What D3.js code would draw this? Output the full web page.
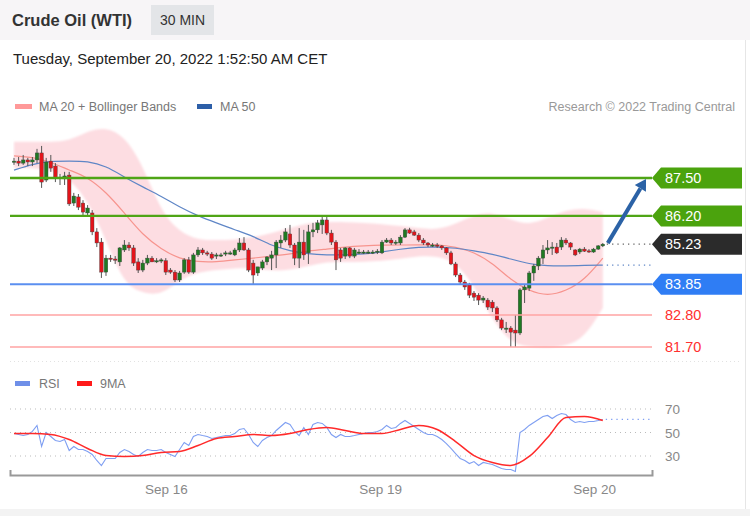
<!DOCTYPE html>
<html><head><meta charset="utf-8">
<script src="https://cdn.jsdelivr.net/npm/d3@7"></script>
<style>body{margin:0;background:#fff;} svg{display:block;font-family:"Liberation Sans",Arial,sans-serif;}</style>
</head><body><svg id="c" width="750" height="516"></svg>
<script>
// ---- DATA ----
// 30-min candles [open, high, low, close]
const ohlc = [
[88.05,88.19,87.95,88.08],[88.08,88.22,87.91,88.01],[88.01,88.29,87.95,88.12],[88.12,88.19,87.91,88.05],
[88.05,88.22,87.91,88.12],[88.12,88.50,88.01,88.36],[88.36,88.60,87.16,87.36],[87.43,88.19,87.36,88.05],
[88.08,88.29,87.71,87.84],[87.91,88.01,87.36,87.50],[87.50,87.64,87.26,87.53],[87.47,87.71,87.26,87.57],
[87.60,87.71,86.54,86.61],[86.64,86.99,86.54,86.88],[86.85,86.95,86.40,86.50],[86.64,86.74,86.23,86.33],
[86.30,86.57,86.20,86.47],[86.30,86.40,85.54,85.65],[85.65,85.78,85.13,85.27],[85.30,85.44,84.07,84.27],
[84.27,84.86,84.14,84.75],[84.75,84.86,84.62,84.72],[84.72,84.82,84.55,84.69],[84.62,85.13,84.48,85.10],
[85.03,85.37,84.96,85.20],[85.20,85.30,85.00,85.10],[85.10,85.20,84.48,84.58],[84.62,84.75,84.24,84.34],
[84.34,84.69,84.27,84.58],[84.58,84.86,84.51,84.75],[84.75,84.82,84.62,84.62],[84.66,84.75,84.58,84.66],
[84.66,84.75,84.58,84.69],[84.66,84.75,84.17,84.27],[84.34,84.41,84.21,84.27],[84.27,84.34,83.93,84.00],
[84.00,84.31,83.93,84.24],[84.27,84.75,84.21,84.69],[84.69,84.79,84.21,84.27],[84.27,84.93,84.21,84.86],
[84.86,85.13,84.79,85.03],[85.03,85.10,84.86,84.93],[84.93,85.00,84.82,84.89],[84.89,84.96,84.69,84.75],
[84.82,84.93,84.72,84.86],[84.86,84.93,84.79,84.86],[84.89,85.00,84.82,84.93],[84.93,85.00,84.86,84.93],
[84.86,85.10,84.82,85.03],[85.03,85.44,84.96,85.27],[85.27,85.47,85.00,85.03],[85.03,85.10,84.27,84.34],
[84.58,84.69,83.86,84.17],[84.24,84.45,84.14,84.45],[84.41,84.69,84.34,84.62],[84.62,84.82,84.51,84.79],
[84.75,85.00,84.34,84.86],[84.86,85.37,84.41,85.30],[85.27,85.54,85.10,85.37],[85.37,85.78,85.30,85.65],
[85.58,85.89,85.10,85.20],[85.20,85.27,84.51,84.75],[84.75,85.78,84.41,85.30],[85.30,85.72,84.69,84.86],
[84.93,85.89,84.55,85.65],[85.65,85.96,85.47,85.72],[85.72,86.06,85.61,85.96],[85.89,86.16,85.58,86.06],
[86.06,86.20,85.54,85.61],[85.61,85.72,85.20,85.30],[85.30,85.37,84.34,84.69],[85.03,85.10,84.62,84.75],
[84.82,85.13,84.72,85.10],[85.10,85.13,84.75,84.82],[84.82,85.10,84.75,85.03],[84.96,85.06,84.89,84.96],
[84.96,85.03,84.89,84.96],[84.96,85.03,84.89,84.96],[84.96,85.03,84.89,84.96],[84.96,85.06,84.89,84.99],
[84.93,85.37,84.89,85.30],[85.30,85.44,85.27,85.37],[85.37,85.44,85.20,85.27],[85.27,85.37,85.20,85.30],
[85.27,85.54,85.20,85.47],[85.47,85.78,85.44,85.72],[85.72,85.79,85.58,85.61],[85.65,85.72,85.51,85.54],
[85.54,85.61,85.30,85.37],[85.37,85.44,85.20,85.27],[85.27,85.30,85.13,85.20],[85.20,85.27,85.13,85.20],
[85.20,85.27,85.10,85.17],[85.17,85.20,85.03,85.10],[85.10,85.13,84.86,84.93],[84.93,85.00,84.51,84.55],
[84.55,84.62,84.10,84.17],[84.17,84.24,83.86,83.93],[83.93,84.00,83.66,83.76],[83.83,83.90,83.38,83.48],
[83.55,83.62,83.28,83.41],[83.48,83.55,83.14,83.31],[83.31,83.45,83.21,83.38],[83.31,83.38,82.97,83.07],
[83.24,83.31,82.90,83.04],[83.04,83.10,82.56,82.63],[82.63,82.70,82.28,82.35],[82.35,82.56,82.18,82.35],
[82.35,82.42,81.70,82.21],[82.28,82.80,81.70,82.18],[82.18,83.72,82.11,83.66],[83.66,83.83,83.21,83.76],
[83.72,84.31,83.62,84.24],[84.24,84.55,83.97,84.48],[84.48,84.82,84.34,84.75],[84.75,85.20,84.55,85.03],
[85.03,85.37,84.89,85.10],[85.10,85.30,84.86,85.13],[85.13,85.27,84.89,84.93],[85.13,85.47,85.03,85.37],
[85.37,85.44,85.20,85.27],[85.27,85.30,85.03,85.13],[85.03,85.06,84.82,84.86],[84.96,85.10,84.89,85.06],
[85.06,85.13,84.96,84.99],[85.00,85.06,84.93,84.96],[84.96,85.10,84.93,85.06],[85.06,85.20,85.03,85.17],
[85.17,85.27,85.13,85.23]
];
// indicator readings, one every 4 candles
const maStep = 4;
const ma20 = [88.26,88.22,88.05,87.77,87.53,87.02,86.30,85.54,85.06,84.72,84.62,84.62,84.69,84.75,84.82,84.89,85.00,85.06,85.13,85.17,85.20,85.20,85.20,85.23,85.13,84.96,84.58,84.00,83.62,83.45,83.62,84.00,84.75];
const ma50 = [87.77,87.98,88.08,88.08,88.08,87.91,87.53,87.19,86.88,86.50,86.20,85.96,85.72,85.51,85.17,85.00,84.89,84.86,84.86,84.89,84.96,85.06,85.13,85.13,85.10,85.00,84.89,84.72,84.55,84.48,84.48,84.50,84.51];
const bbUpper = [88.74,88.74,88.74,88.77,89.11,89.25,88.94,87.95,86.33,85.65,85.37,85.37,85.37,85.47,85.61,85.78,85.96,85.99,85.99,85.96,85.92,85.85,85.78,85.72,85.92,86.23,86.33,86.06,85.89,86.13,86.40,86.47,86.33];
const bbLower = [87.84,87.84,87.77,87.50,86.74,85.37,83.83,83.55,83.48,84.00,84.27,84.34,84.41,84.41,84.31,84.34,84.48,84.62,84.62,84.62,84.65,84.72,84.82,84.82,84.62,83.83,82.63,81.84,81.70,81.67,81.73,82.01,83.04];
// RSI per candle
const rsi = [49.1,48.3,47.4,48.3,50.9,56.0,38.1,50.0,46.6,43.2,42.3,44.0,34.7,38.1,35.5,35.5,33.8,31.3,26.2,21.9,
27.9,27.9,27.9,33.0,35.5,33.8,31.3,29.6,33.0,35.5,34.7,34.7,35.5,33.0,31.3,29.6,35.5,41.5,38.9,46.6,
48.3,47.4,46.6,44.9,45.7,46.6,47.4,47.4,49.1,52.6,53.4,48.3,41.5,38.1,43.2,45.7,47.4,51.7,55.1,58.5,
56.8,50.9,47.4,54.3,48.3,56.8,58.5,57.7,54.3,48.3,45.7,48.3,46.6,46.6,47.4,48.3,49.1,50.0,50.0,50.9,
52.6,56.0,53.4,54.3,57.7,60.2,57.7,55.1,52.6,50.0,48.3,48.3,46.6,44.0,40.6,36.4,32.1,27.9,26.2,23.6,
25.3,21.9,24.5,23.6,22.8,21.1,19.4,18.5,18.5,16.8,50.0,52.6,56.0,58.5,61.1,63.6,64.5,61.9,64.5,66.2,
65.3,61.1,58.5,59.4,58.5,59.4,59.4,60.2,61.1];
const rsiMA9 = [49.1,49.1,48.3,44.0,36.4,30.4,29.6,30.4,33.0,33.8,38.9,44.9,46.6,48.3,47.4,49.1,52.6,54.3,51.7,49.1,49.1,52.6,56.0,52.6,42.3,30.4,24.5,21.9,29.6,45.7,62.8,63.6,60.2];
const resistances = [87.50, 86.20];
const pivot = 83.85;
const supports = [82.80, 81.70];
const lastPrice = 85.23;
const targetPrice = 87.50;
const rsiTicks = [70, 50, 30];
const dateTickLabels = ["Sep 16", "Sep 19", "Sep 20"];
const dateTickIndex = [33.0, 79.6, 126.1];

// ---- SCALES ----
const svg = d3.select('#c');
const x = d3.scaleLinear().domain([-0.87, 138.7]).range([10, 652]);
const y = d3.scaleLinear().domain([81.70, 87.50]).range([347, 178]);
const yr = d3.scaleLinear().domain([30, 70]).range([456, 409]);
const xi = i => x(i);
const lastI = ohlc.length - 1;

// ---- FRAME ----
svg.append('rect').attr('x',0).attr('y',0).attr('width',750).attr('height',40).attr('fill','#f7f5f7');
svg.append('rect').attr('x',0).attr('y',509).attr('width',750).attr('height',7).attr('fill','#f3f3f3');
svg.append('line').attr('x1',745.5).attr('x2',745.5).attr('y1',40).attr('y2',509).attr('stroke','#e6e6e6');
svg.append('text').attr('x',12).attr('y',26).attr('font-size',16.5).attr('font-weight','bold').attr('fill','#333').text('Crude Oil (WTI)');
svg.append('rect').attr('x',151).attr('y',5).attr('width',63).attr('height',30).attr('fill','#e3e5e8');
svg.append('text').attr('x',182.5).attr('y',25).attr('text-anchor','middle').attr('font-size',14).attr('fill','#333').text('30 MIN');
svg.append('text').attr('x',13).attr('y',64).attr('font-size',15).attr('fill','#222').text('Tuesday, September 20, 2022 1:52:50 AM CET');

// legend
svg.append('rect').attr('x',15).attr('y',104).attr('width',17).attr('height',5).attr('fill','#f99');
svg.append('text').attr('x',39).attr('y',111).attr('font-size',12.5).attr('fill','#777').text('MA 20 + Bollinger Bands');
svg.append('rect').attr('x',197).attr('y',104).attr('width',15).attr('height',5).attr('fill','#2d5fa8');
svg.append('text').attr('x',220).attr('y',111).attr('font-size',12.5).attr('fill','#777').text('MA 50');
svg.append('text').attr('x',735).attr('y',111).attr('text-anchor','end').attr('font-size',12.5).attr('fill','#999').text('Research \u00a9 2022 Trading Central');

// ---- BOLLINGER ----
const defs = svg.append('defs');
defs.append('filter').attr('id','soft').attr('x','-5%').attr('y','-10%').attr('width','110%').attr('height','120%')
  .append('feGaussianBlur').attr('stdDeviation',1.3);
defs.append('clipPath').attr('id','bandclip').append('rect')
  .attr('x',xi(0)-1).attr('y',0).attr('width',xi(lastI)-xi(0)+3).attr('height',516);
const band = d3.area().x((d,k)=>xi(k*maStep)).y0((d,k)=>y(bbLower[k])).y1(d=>y(d)).curve(d3.curveBasis);
svg.append('g').attr('clip-path','url(#bandclip)')
  .append('path').datum(bbUpper).attr('d',band).attr('fill','#fddde2').attr('filter','url(#soft)');

// MA lines
const maLine = d3.line().x((d,k)=>xi(k*maStep)).y(d=>y(d)).curve(d3.curveBasis);
svg.append('path').datum(ma20).attr('d',maLine).attr('fill','none').attr('stroke','#f7948e').attr('stroke-width',1.2);
svg.append('path').datum(ma50).attr('d',maLine).attr('fill','none').attr('stroke','#5f86c6').attr('stroke-width',1.2);

// ---- CANDLES ----
const bw = 3.6;
const cg = svg.append('g');
ohlc.forEach((c,i)=>{
  const [o,h,l,cl] = c;
  const cx = xi(i);
  cg.append('line').attr('x1',cx).attr('x2',cx).attr('y1',y(h)).attr('y2',y(l)).attr('stroke','#555').attr('stroke-width',1);
  const top = y(Math.max(o,cl)), bot = y(Math.min(o,cl));
  cg.append('rect').attr('x',cx-bw/2).attr('y',top).attr('width',bw).attr('height',Math.max(1.2,bot-top))
    .attr('fill', cl>=o ? '#1f7a22' : '#e3141b').attr('stroke','#444').attr('stroke-width',0.4);
});

// ---- LEVELS ----
const x0 = 10, x1 = 652;
function tag(v, fill, txtColor){
  const yy = y(v);
  if (fill) svg.append('path').attr('d',`M${x1},${yy} L${x1+9},${yy-10.5} H742 V${yy+10.5} H${x1+9} Z`).attr('fill',fill);
  svg.append('text').attr('x',665).attr('y',yy+5).attr('font-size',14.5).attr('fill',txtColor).text(v.toFixed(2));
}
resistances.forEach(v=>{
  svg.append('line').attr('x1',x0).attr('x2',x1).attr('y1',y(v)).attr('y2',y(v)).attr('stroke','#4fa516').attr('stroke-width',2.4);
  tag(v,'#4ba30d','#fff');
});
svg.append('line').attr('x1',x0).attr('x2',x1).attr('y1',y(pivot)).attr('y2',y(pivot)).attr('stroke','#5b8ff0').attr('stroke-width',2);
tag(pivot,'#2f7df4','#fff');
supports.forEach(v=>{
  svg.append('line').attr('x1',x0).attr('x2',x1).attr('y1',y(v)).attr('y2',y(v)).attr('stroke','#ffa3a3').attr('stroke-width',1.4);
  tag(v,null,'#ff3030');
});
// last price + dotted extensions
svg.append('line').attr('x1',xi(lastI)+4).attr('x2',x1).attr('y1',y(lastPrice)).attr('y2',y(lastPrice)).attr('stroke','#666').attr('stroke-width',1.3).attr('stroke-dasharray','1.3,4');
tag(lastPrice,'#2b2b2b','#fff');
svg.append('line').attr('x1',xi(lastI)+4).attr('x2',x1).attr('y1',y(ma50[ma50.length-1])).attr('y2',y(ma50[ma50.length-1])).attr('stroke','#5f86c6').attr('stroke-width',1.3).attr('stroke-dasharray','1.3,4');

// arrow
const ax0 = xi(lastI)+5, ay0 = y(lastPrice)-1, ax1 = 646, ay1 = y(targetPrice)+1;
const ang = Math.atan2(ay1-ay0, ax1-ax0);
const hl = 11, hw = 6.5;
const bx = ax1 - hl*Math.cos(ang), by = ay1 - hl*Math.sin(ang);
svg.append('line').attr('x1',ax0).attr('y1',ay0).attr('x2',bx).attr('y2',by).attr('stroke','#2b62a6').attr('stroke-width',4);
svg.append('path').attr('d',`M${ax1},${ay1} L${bx+hw*Math.sin(ang)},${by-hw*Math.cos(ang)} L${bx-hw*Math.sin(ang)},${by+hw*Math.cos(ang)} Z`).attr('fill','#2b62a6');

// ---- RSI PANEL ----
svg.append('line').attr('x1',10).attr('x2',740).attr('y1',361.5).attr('y2',361.5).attr('stroke','#e2e2e2').attr('stroke-dasharray','1,3');
svg.append('rect').attr('x',15).attr('y',381).attr('width',15).attr('height',5).attr('fill','#6f8fe8');
svg.append('text').attr('x',39).attr('y',388).attr('font-size',12.5).attr('fill','#777').text('RSI');
svg.append('rect').attr('x',77).attr('y',381).attr('width',15).attr('height',5).attr('fill','#ff1a1a');
svg.append('text').attr('x',100).attr('y',388).attr('font-size',12.5).attr('fill','#777').text('9MA');
rsiTicks.forEach(t=>{
  svg.append('line').attr('x1',x0).attr('x2',x1).attr('y1',yr(t)).attr('y2',yr(t)).attr('stroke','#bbb').attr('stroke-dasharray','1,4');
  svg.append('text').attr('x',665).attr('y',yr(t)+5).attr('font-size',13.5).attr('fill','#888').text(t);
});
svg.append('path').datum(rsi).attr('d',d3.line().x((d,i)=>xi(i)).y(d=>yr(d))).attr('fill','none').attr('stroke','#7f9ff2').attr('stroke-width',1.1);
svg.append('line').attr('x1',xi(lastI)+3).attr('x2',x1).attr('y1',yr(rsi[lastI])).attr('y2',yr(rsi[lastI])).attr('stroke','#7f9ff2').attr('stroke-width',1.3).attr('stroke-dasharray','1.3,4');
svg.append('path').datum(rsiMA9).attr('d',d3.line().x((d,k)=>xi(k*maStep)).y(d=>yr(d)).curve(d3.curveMonotoneX)).attr('fill','none').attr('stroke','#ff2a2a').attr('stroke-width',1.5);

// ---- AXIS ----
const axis = d3.axisBottom(x).tickValues(dateTickIndex).tickFormat((d,i)=>dateTickLabels[i]).tickSizeInner(0).tickSizeOuter(-5).tickPadding(9);
const ag = svg.append('g').attr('transform','translate(0,475)').call(axis);
ag.select('.domain').attr('stroke','#999').attr('stroke-width',2);
ag.selectAll('text').attr('font-size',13.5).attr('fill','#888').attr('font-family','"Liberation Sans",Arial,sans-serif');
</script></body></html>
